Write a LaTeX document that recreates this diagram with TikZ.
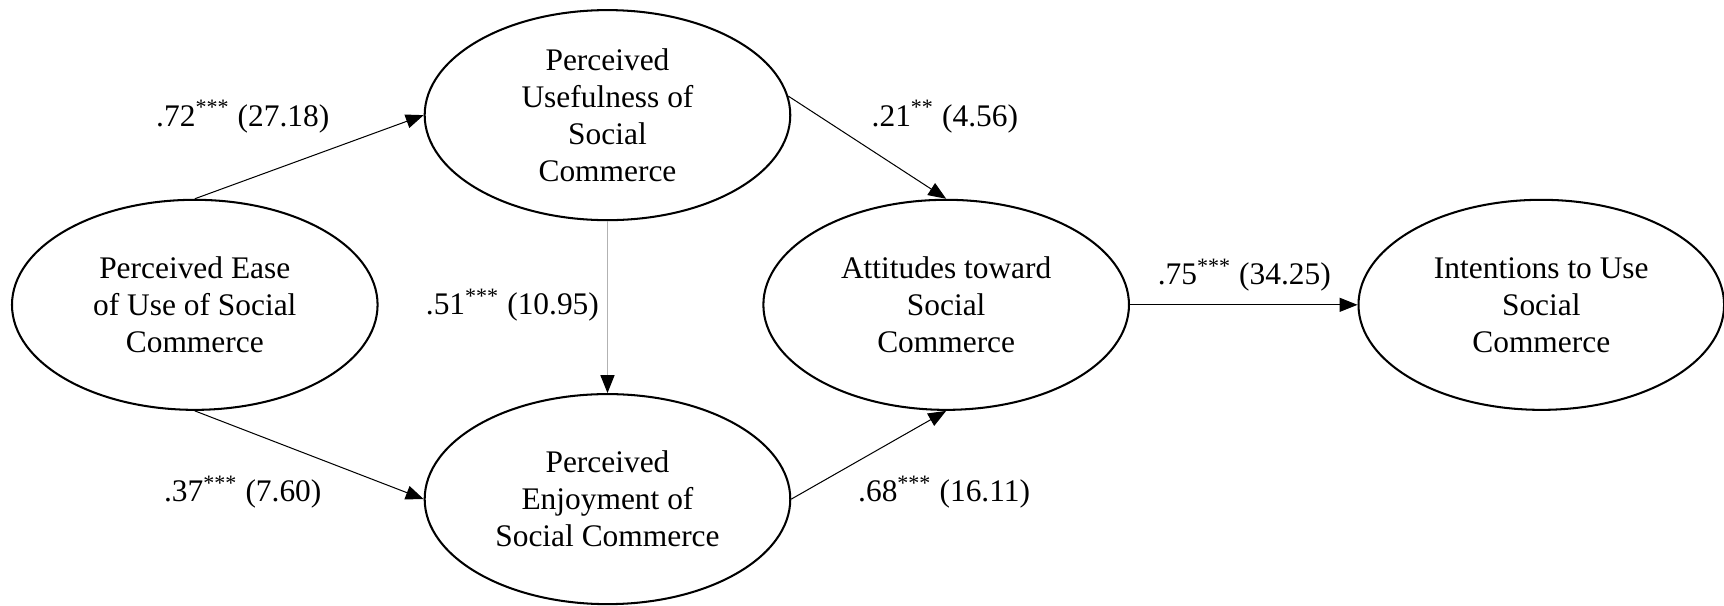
\documentclass[tikz,border=0pt]{standalone}
\usepackage{fontspec}
\setmainfont{Liberation Serif}
\usetikzlibrary{shapes.geometric,positioning,arrows.meta}

\tikzset{
  construct/.style={ellipse, draw, line width=0.8pt, minimum width=5.03cm,
    minimum height=2.89cm, inner sep=0pt, align=center},
  causal/.style={-{Triangle[length=7pt,width=5.5pt]}, line width=0.4pt},
  coef/.style={inner sep=1pt},
}

\begin{document}
\begin{tikzpicture}[font=\fontsize{12.3}{14.5}\selectfont]

  \useasboundingbox (0,0) rectangle (23.72,8.324);

  % constructs
  \node[construct] (peou) at (2.68,4.13) {Perceived Ease\\of Use of Social\\Commerce}; %
  \node[construct, right=0.62cm of peou, yshift=2.61cm] (pu) {Perceived\\Usefulness of\\Social\\Commerce}; %
  \node[construct, below=2.365cm of pu] (pe) {Perceived\\Enjoyment of\\Social Commerce}; %
  \node[construct, right=5.28cm of peou] (att) {Attitudes toward\\Social\\Commerce}; %
  \node[construct, right=3.13cm of att] (int) {Intentions to Use\\Social\\Commerce}; %

  % paths
  \draw[causal] (peou.north) -- (pu.west);
  \draw[causal] (peou.south) -- (pe.west);
  \draw[-{Triangle[length=7pt,width=5.5pt,color=black]}, line width=0.4pt, draw=gray!60] (pu.south) -- (pe.north);
  \draw[causal] (pu.6) -- (att.north);
  \draw[causal] (pe.east) -- (att.south);
  \draw[causal] (att.east) -- (int.west);

  % coefficients
  \node[coef] (c-peou-pu)  at (3.34,6.72)  {.72\textsuperscript{***} (27.18)};
  \node[coef] (c-peou-pe)  at (3.34,1.555) {.37\textsuperscript{***} (7.60)};
  \node[coef] (c-pu-pe)    at (7.05,4.13)  {.51\textsuperscript{***} (10.95)};
  \node[coef] (c-pu-att)   at (13.0,6.72)  {.21\textsuperscript{**} (4.56)};
  \node[coef] (c-pe-att)   at (12.99,1.555) {.68\textsuperscript{***} (16.11)};
  \node[coef] (c-att-int)  at (17.12,4.54) {.75\textsuperscript{***} (34.25)};

\end{tikzpicture}
\end{document}
